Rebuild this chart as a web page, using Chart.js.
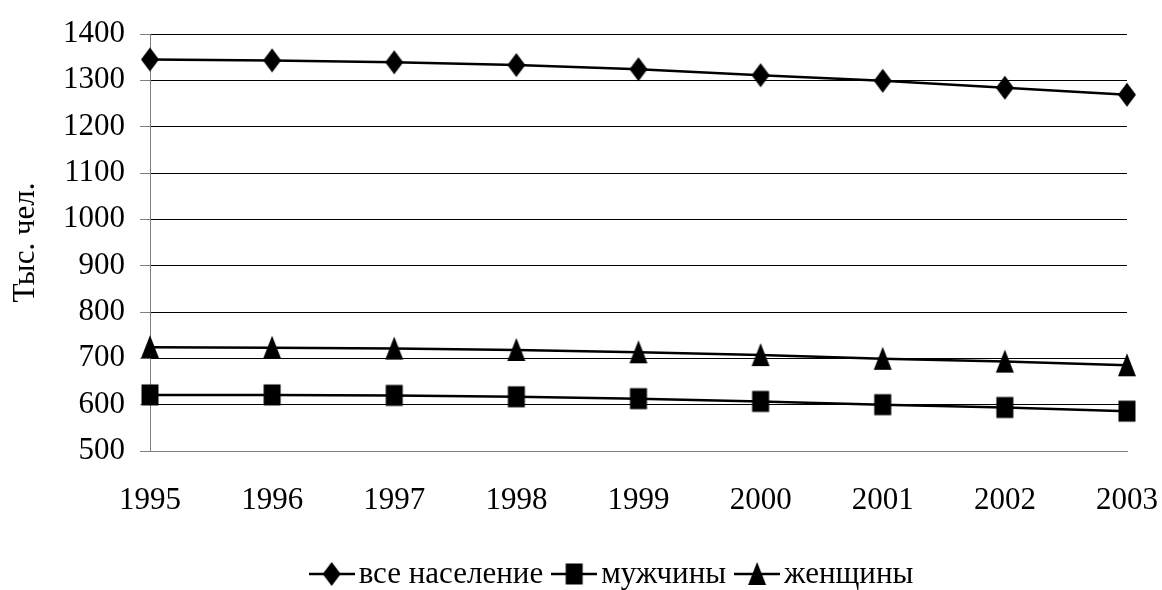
<!DOCTYPE html>
<html>
<head>
<meta charset="utf-8">
<script src="https://cdn.jsdelivr.net/npm/chart.js@4"></script>
<style>
  html, body { margin: 0; padding: 0; background: #fff; }
  #wrap { width: 1162px; height: 590px; }
</style>
</head>
<body>
<div id="wrap"><canvas id="grafico" width="1162" height="590"></canvas></div>
<script>
// Данные
const anos = ['1995', '1996', '1997', '1998', '1999', '2000', '2001', '2002', '2003'];
const vseNaselenie = [1345, 1343, 1339, 1333, 1324, 1311, 1299, 1284, 1269];
const muzhchiny = [621, 621, 620, 617, 613, 607, 600, 594, 586];
const zhenshchiny = [724, 723, 721, 718, 713, 707, 699, 693, 685];
const nomes = ['все население', 'мужчины', 'женщины'];

// маркеры (чуть вытянутые по вертикали, как в оригинале)
function marcador(tipo, comLinha) {
  const c = document.createElement('canvas');
  const w = comLinha ? 46 : 20, h = 26;
  c.width = w; c.height = h;
  const g = c.getContext('2d');
  const cx = w / 2, cy = h / 2;
  if (comLinha) {
    g.strokeStyle = '#000'; g.lineWidth = 2.5;
    g.beginPath(); g.moveTo(0, cy); g.lineTo(w, cy); g.stroke();
  }
  g.fillStyle = '#000';
  g.beginPath();
  if (tipo === 'romb') {
    g.moveTo(cx, cy - 12); g.lineTo(cx + 9, cy); g.lineTo(cx, cy + 12); g.lineTo(cx - 9, cy);
  } else if (tipo === 'kvadrat') {
    g.rect(cx - 8.5, cy - 10.5, 17, 21);
  } else {
    g.moveTo(cx, cy - 12); g.lineTo(cx + 9, cy + 11); g.lineTo(cx - 9, cy + 11);
  }
  g.closePath(); g.fill();
  return c;
}

const tipos = ['romb', 'kvadrat', 'treug'];
const series = [vseNaselenie, muzhchiny, zhenshchiny];
const fonte = { family: 'Liberation Serif', size: 31 };

// легенда как в Excel: линия с маркером, сразу текст
const legendaExcel = {
  id: 'legendaExcel',
  afterDraw(chart) {
    const g = chart.ctx;
    const y = 574;
    g.save();
    g.font = fonte.size + 'px "' + fonte.family + '"';
    g.textBaseline = 'middle';
    g.fillStyle = '#000';
    const itens = chart.data.datasets.map(d => ({ img: d.legendStyle, txt: d.label, w: g.measureText(d.label).width }));
    const total = itens.reduce((a, it) => a + it.img.width + 4 + it.w, 0) + 8 * (itens.length - 1);
    let x = 611 - total / 2;
    itens.forEach(it => {
      g.drawImage(it.img, x, y - it.img.height / 2);
      x += it.img.width + 4;
      g.fillText(it.txt, x, y + 1);
      x += it.w + 8;
    });
    g.restore();
  }
};

const config = {
  type: 'line',
  data: {
    labels: anos,
    datasets: series.map((s, i) => ({
      label: nomes[i],
      data: s,
      borderColor: '#000',
      backgroundColor: '#000',
      borderWidth: 2.5,
      pointStyle: marcador(tipos[i], false),
      legendStyle: marcador(tipos[i], true),
      pointRadius: 10,
      tension: 0
    }))
  },
  options: {
    responsive: false,
    animation: false,
    layout: { padding: { left: 0, right: 35, top: 34, bottom: 61 } },
    plugins: {
      legend: { display: false },
      tooltip: { enabled: false }
    },
    scales: {
      x: {
        offset: false,
        grid: { display: false, drawTicks: true, tickLength: 9, tickColor: '#808080' },
        border: { color: '#808080', width: 1 },
        ticks: { color: '#000', font: fonte, padding: 22, maxRotation: 0 },
        afterFit: s => { s.height = 78; s.paddingLeft = 0; s.paddingRight = 0; }
      },
      y: {
        min: 500,
        max: 1400,
        ticks: { stepSize: 100, color: '#000', font: fonte, padding: 15, callback: v => String(v) },
        grid: { color: '#000', lineWidth: 1, tickLength: 10, tickColor: '#808080' },
        border: { color: '#808080', width: 1 },
        title: { display: true, text: 'Тыс. чел.', color: '#000', font: fonte, padding: { top: 7, bottom: 0 } },
        afterFit: s => { s.width = 150; }
      }
    }
  },
  plugins: [legendaExcel]
};

const ctx = document.getElementById('grafico');
if (ctx) {
  new Chart(ctx, config);
}
</script>
</body>
</html>
